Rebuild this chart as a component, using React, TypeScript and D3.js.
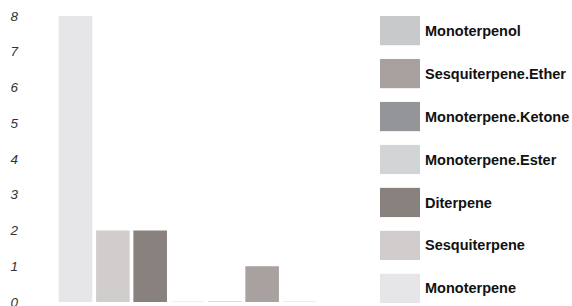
import React from "react";
import * as d3 from "d3";

const categories = [
  "Monoterpene",
  "Sesquiterpene",
  "Diterpene",
  "Monoterpene.Ester",
  "Monoterpene.Ketone",
  "Sesquiterpene.Ether",
  "Monoterpenol",
];
const counts = [8, 2, 2, 0, 0, 1, 0];
const colors = ["#e6e6e8", "#d0cdcc", "#89817e", "#d3d4d6", "#949598", "#a8a19f", "#c8c9cb"];
const yTicks = [0, 1, 2, 3, 4, 5, 6, 7, 8];
// legend is listed bottom-up (Monoterpene at the bottom)
const legendOrder = [6, 5, 4, 3, 2, 1, 0];

const W = 572;
const H = 306;

const App = () => {
  const x = d3.scaleBand().domain(categories).range([58, 317]).paddingInner(0.1).paddingOuter(0.02);
  const y = d3.scaleLinear().domain([0, 8]).range([302, 16]);
  const ly = d3.scaleBand().domain(legendOrder.map(String)).range([16, 303]).paddingInner(0.32);

  return (
    <svg width={W} height={H} style={{ position: "absolute", left: 0, top: 0, background: "#fff" }}>
      <g fontFamily="Liberation Sans, Arial, sans-serif" fontStyle="italic" fontSize={13.5} fill="#333">
        {yTicks.map((t) => (
          <text key={t} x={18} y={y(t)} dy="0.35em" textAnchor="end">
            {t}
          </text>
        ))}
      </g>
      {categories.map((c, i) => {
        const h = Math.max(1, y(0) - y(counts[i]));
        return (
          <rect
            key={c}
            x={x(c)}
            y={y(0) - h}
            width={x.bandwidth()}
            height={h}
            fill={colors[i]}
            opacity={counts[i] === 0 ? 0.35 : 1}
          />
        );
      })}
      {legendOrder.map((i) => (
        <g key={categories[i]} transform={`translate(380,${ly(String(i))})`}>
          <rect width={40} height={ly.bandwidth()} fill={colors[i]} />
          <text
            x={45}
            y={ly.bandwidth() / 2}
            dy="0.35em"
            fontFamily="Liberation Sans, Arial, sans-serif"
            fontWeight="bold"
            fontSize={14.5}
            fill="#111"
          >
            {categories[i]}
          </text>
        </g>
      ))}
    </svg>
  );
};

export default App;
